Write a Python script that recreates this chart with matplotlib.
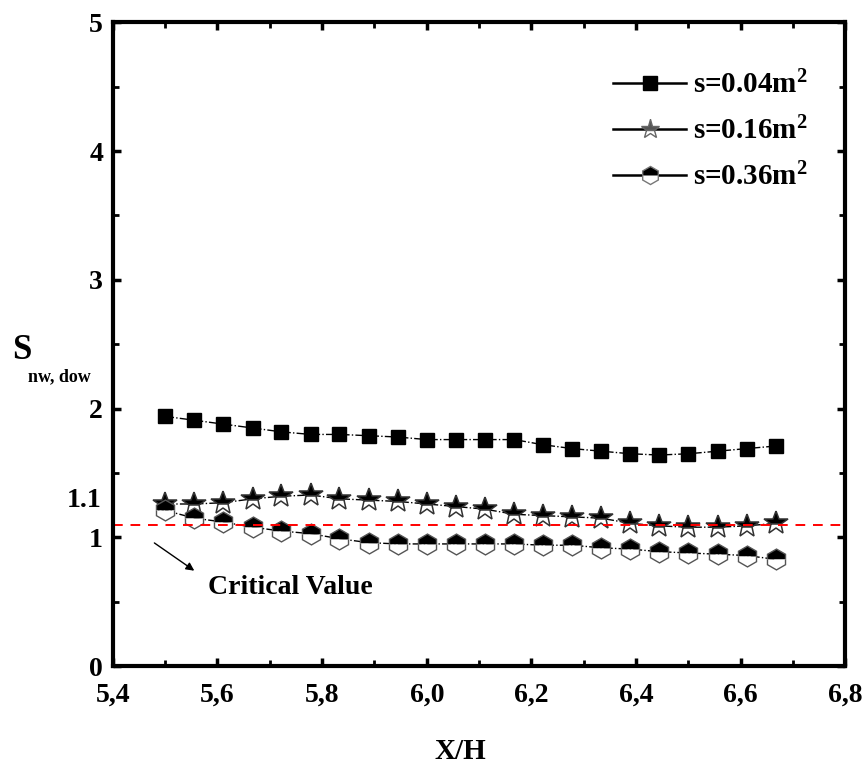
import numpy as np
import matplotlib
matplotlib.use('Agg')
import matplotlib.pyplot as plt
from matplotlib.ticker import MultipleLocator

plt.rcParams['font.family'] = 'Liberation Serif'
plt.rcParams['font.weight'] = 'bold'
plt.rcParams['mathtext.fontset'] = 'custom'
plt.rcParams['mathtext.rm'] = 'Liberation Serif:bold'
plt.rcParams['mathtext.bf'] = 'Liberation Serif:bold'
plt.rcParams['mathtext.it'] = 'Liberation Serif:bold'

# X/H positions
xh = [5.500, 5.556, 5.611, 5.667, 5.722, 5.778, 5.833, 5.889, 5.944, 6.000, 6.056,
      6.111, 6.167, 6.222, 6.278, 6.333, 6.389, 6.444, 6.500, 6.556, 6.611, 6.667]

s004 = [1.94, 1.91, 1.88, 1.85, 1.82, 1.80, 1.80, 1.79, 1.78, 1.76, 1.76,
        1.76, 1.76, 1.72, 1.69, 1.67, 1.65, 1.64, 1.65, 1.67, 1.69, 1.71]
s016 = [1.26, 1.26, 1.27, 1.30, 1.32, 1.33, 1.30, 1.29, 1.28, 1.26, 1.24,
        1.22, 1.18, 1.17, 1.16, 1.15, 1.11, 1.09, 1.08, 1.08, 1.09, 1.11]
s036 = [1.21, 1.15, 1.12, 1.08, 1.05, 1.03, 0.99, 0.96, 0.95, 0.95, 0.95,
        0.95, 0.95, 0.94, 0.94, 0.92, 0.91, 0.89, 0.88, 0.87, 0.86, 0.83]

labels = ['s=0.04m$^2$', 's=0.16m$^2$', 's=0.36m$^2$']
critical = 1.1

fig = plt.figure(figsize=(8.68, 7.65), dpi=100)
ax = fig.add_axes([0.130, 0.129, 0.844, 0.842])

# dash-dot lines with markers
ax.plot(xh, s004, color='black', linestyle='-.', linewidth=1.0,
        marker='s', markersize=10, markerfacecolor='black', markeredgecolor='black')
ax.plot(xh, s016, color='black', linestyle='-.', linewidth=1.0,
        marker='*', markersize=18, fillstyle='top', markerfacecolor='black',
        markerfacecoloralt='white', markeredgecolor='#333333', markeredgewidth=1.1)
ax.plot(xh, s036, color='black', linestyle='-.', linewidth=1.0,
        marker='h', markersize=15, fillstyle='top', markerfacecolor='black',
        markerfacecoloralt='white', markeredgecolor='#555555', markeredgewidth=1.0)

# legend handles with solid lines
h1, = ax.plot([], [], color='black', linewidth=1.8, marker='s', markersize=10)
h2, = ax.plot([], [], color='black', linewidth=1.8, marker='*', markersize=14,
              fillstyle='top', markerfacecolor='#555555', markerfacecoloralt='white',
              markeredgecolor='#666666')
h3, = ax.plot([], [], color='black', linewidth=1.8, marker='h', markersize=13,
              fillstyle='top', markerfacecolor='black', markerfacecoloralt='white',
              markeredgecolor='#777777')
ax.legend([h1, h2, h3], labels, loc='upper right', frameon=False, fontsize=21,
          handlelength=2.5, handletextpad=0.25, labelspacing=0.6,
          bbox_to_anchor=(0.985, 0.965))

ax.axhline(critical, color='red', linestyle='--', linewidth=1.4, dashes=(5, 4))

ax.set_xlim(5.4, 6.8)
ax.set_ylim(0, 5)
ax.xaxis.set_major_locator(MultipleLocator(0.2))
ax.xaxis.set_minor_locator(MultipleLocator(0.1))
ax.yaxis.set_major_locator(MultipleLocator(1))
ax.yaxis.set_minor_locator(MultipleLocator(0.5))
ax.set_xticklabels([f'{v:.1f}'.replace('.', ',') for v in ax.get_xticks()])
ax.tick_params(which='both', direction='in', top=True, right=True, labelsize=20)
ax.tick_params(axis='x', pad=12)
ax.tick_params(axis='y', pad=7)
ax.tick_params(which='major', length=6, width=2.5)
ax.tick_params(which='minor', length=4, width=2)
for sp in ax.spines.values():
    sp.set_linewidth(3)

ax.text(-0.016, 1.29, '1.1', transform=ax.get_yaxis_transform(), fontsize=20,
        ha='right', va='center')

ax.annotate('', xy=(5.56, 0.73), xytext=(5.475, 0.97),
            arrowprops=dict(arrowstyle='-|>', color='black', lw=1.0, mutation_scale=12))
ax.text(5.582, 0.61, 'Critical Value', fontsize=20, ha='left', va='center')

fig.text(0.530, 0.018, 'X/H', fontsize=21, ha='center', va='center')
fig.text(0.014, 0.542, 'S', fontsize=25, ha='left', va='center')
fig.text(0.032, 0.507, 'nw, dow', fontsize=13, ha='left', va='center')

fig.savefig('out.png', dpi=100)
